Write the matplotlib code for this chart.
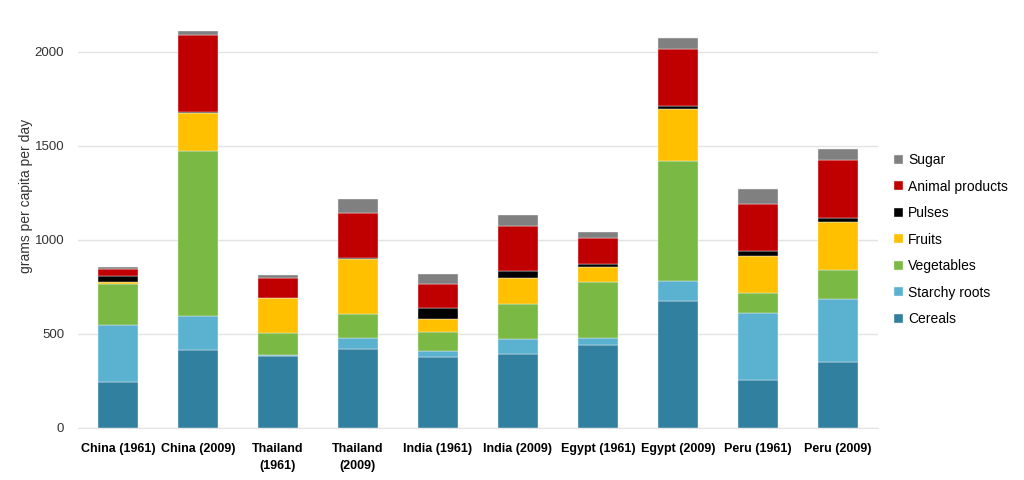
import matplotlib.pyplot as plt
import numpy as np

plt.rcParams['font.family'] = ['Liberation Sans', 'DejaVu Sans']

# categories (x axis)
countries = ['China (1961)', 'China (2009)', 'Thailand\n(1961)', 'Thailand\n(2009)',
             'India (1961)', 'India (2009)', 'Egypt (1961)', 'Egypt (2009)',
             'Peru (1961)', 'Peru (2009)']

# grams per capita per day
cereals = [245, 413, 381, 419, 378, 392, 441, 676, 254, 349]
starchy_roots = [303, 181, 6, 58, 28, 80, 36, 104, 354, 336]
vegetables = [218, 879, 117, 128, 101, 188, 298, 639, 107, 154]
fruits = [9, 199, 186, 292, 70, 138, 78, 278, 200, 254]
pulses = [32, 7, 2, 7, 61, 34, 19, 16, 23, 22]
animal_products = [39, 411, 103, 236, 126, 241, 135, 300, 253, 307]
sugar = [7, 20, 15, 78, 52, 57, 34, 61, 79, 62]

series = [('Cereals', cereals, '#31809F'),
          ('Starchy roots', starchy_roots, '#5BB1D0'),
          ('Vegetables', vegetables, '#7AB943'),
          ('Fruits', fruits, '#FFC000'),
          ('Pulses', pulses, '#000000'),
          ('Animal products', animal_products, '#C00000'),
          ('Sugar', sugar, '#808080')]

fig = plt.figure(figsize=(10.24, 4.8), dpi=100)
ax = fig.add_axes([0.0762, 0.109, 0.781, 0.834])

x = np.arange(len(countries))
bottom = np.zeros(len(countries))
for name, vals, col in series:
    ax.bar(x, vals, 0.5, bottom=bottom, color=col, label=name,
           edgecolor='#f2f2f2', linewidth=0.3, zorder=3)
    bottom += np.array(vals)

ax.set_xlim(-0.5, len(countries) - 0.5)
ax.set_ylim(0, 2130)
ax.set_yticks([0, 500, 1000, 1500, 2000])
ax.yaxis.grid(True, color='#e3e3e3', linewidth=1, zorder=0)
ax.set_axisbelow(True)
for s in ['top', 'right', 'left']:
    ax.spines[s].set_visible(False)
ax.spines['bottom'].set_color('#e3e3e3')
ax.tick_params(axis='both', length=0)
ax.tick_params(axis='y', labelsize=9.5, labelcolor='#333333', pad=10)
ax.set_xticks(x)
ax.set_xticklabels(countries, fontsize=9, fontweight='bold', linespacing=1.6)
ax.tick_params(axis='x', pad=11)
ax.set_ylabel('grams per capita per day', fontsize=10, color='#333333')
ax.yaxis.set_label_coords(-0.056, 0.58)

h, l = ax.get_legend_handles_labels()
ax.legend(h[::-1], l[::-1], loc='center left', bbox_to_anchor=(1.005, 0.47),
          frameon=False, fontsize=10, handlelength=0.6, handleheight=0.6,
          handletextpad=0.4, labelspacing=0.9)

fig.savefig('out.png', dpi=100)
